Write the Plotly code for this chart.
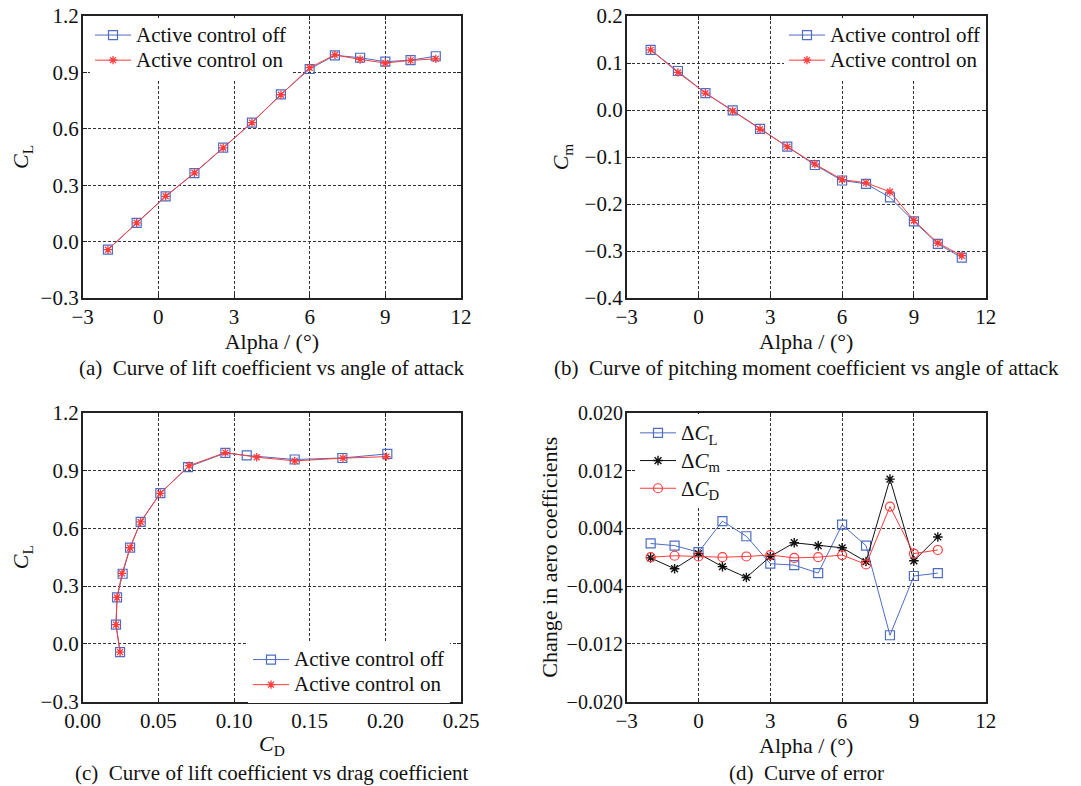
import plotly.graph_objects as go

# ---------------- data ----------------
alpha = [-2, -0.86, 0.29, 1.43, 2.57, 3.71, 4.86, 6, 7, 8, 9, 10, 11]
CL_off = [-0.043, 0.100, 0.241, 0.364, 0.500, 0.633, 0.783, 0.918, 0.991, 0.978, 0.957, 0.965, 0.986]
CL_on = [-0.043, 0.100, 0.241, 0.366, 0.499, 0.633, 0.781, 0.925, 0.993, 0.969, 0.950, 0.964, 0.972]
Cm_off = [0.128, 0.083, 0.036, -0.001, -0.040, -0.078, -0.117, -0.150, -0.157, -0.186, -0.237, -0.285, -0.314]
Cm_on = [0.128, 0.080, 0.036, -0.002, -0.041, -0.078, -0.115, -0.148, -0.155, -0.174, -0.235, -0.283, -0.310]
CD_off = [0.0247, 0.0220, 0.0227, 0.0264, 0.0313, 0.0383, 0.0513, 0.0696, 0.0943, 0.1084, 0.1401, 0.1716, 0.2013]
CD_on = [0.0247, 0.0220, 0.0227, 0.0260, 0.0313, 0.0383, 0.0513, 0.0703, 0.0943, 0.1150, 0.1401, 0.1720, 0.2007]

alpha_d = [-2, -1, 0, 1, 2, 3, 4, 5, 6, 7, 8, 9, 10]
dCL = [0.0019, 0.0016, 0.0007, 0.0050, 0.0029, -0.0009, -0.0011, -0.0022, 0.0045, 0.0016, -0.0108, -0.0026, -0.0022]
dCm = [-0.0001, -0.0016, 0.0005, -0.0013, -0.0028, 0.0001, 0.0020, 0.0016, 0.0013, -0.0006, 0.0108, -0.0005, 0.0028]
dCD = [0.0000, 0.0002, 0.0001, 0.0000, 0.0001, 0.0003, -0.0001, 0.0000, 0.0003, -0.0010, 0.0070, 0.0005, 0.0010]

name_off = "Active control off"
name_on = "Active control on"
names_d = ["Δ<i>C</i><sub>L</sub>", "Δ<i>C</i><sub>m</sub>", "Δ<i>C</i><sub>D</sub>"]
captions = [
    "(a)\u00a0\u00a0Curve of lift coefficient vs angle of attack",
    "(b)\u00a0\u00a0Curve of pitching moment coefficient vs angle of attack",
    "(c)\u00a0\u00a0Curve of lift coefficient vs drag coefficient",
    "(d)\u00a0\u00a0Curve of error",
]

# ---------------- style ----------------
# page body has an 8px margin: the figure is sized/offset so that screen
# positions line up with the 1081x786 reference
OFF = 8
W, H = 1081 - OFF, 786 - OFF
FONT = "Liberation Serif, Times New Roman, serif"
BLUE = "#4d6cc4"
RED = "#ff3b3b"
BLACK = "#111111"
LEG_TEXT = '<span style="font-size:21px">{}</span>'

def px_x(p):
    return (p - OFF) / W

def px_y(p):
    return 1 - (p - OFF) / H

fig = go.Figure()

def off_trace(x, y, xa, ya, leg):
    return go.Scatter(x=x, y=y, xaxis=xa, yaxis=ya, name=LEG_TEXT.format(name_off), legend=leg,
                      mode="lines+markers",
                      line=dict(color=BLUE, width=1),
                      marker=dict(symbol="square-open", size=9, color=BLUE,
                                  line=dict(color=BLUE, width=1.2)))

def on_trace(x, y, xa, ya, leg):
    return go.Scatter(x=x, y=y, xaxis=xa, yaxis=ya, name=LEG_TEXT.format(name_on), legend=leg,
                      mode="lines+markers",
                      line=dict(color=RED, width=1),
                      marker=dict(symbol="asterisk-open", size=7, color=RED,
                                  line=dict(color=RED, width=1.3)))

# (a)
fig.add_trace(off_trace(alpha, CL_off, "x", "y", "legend"))
fig.add_trace(on_trace(alpha, CL_on, "x", "y", "legend"))
# (b)
fig.add_trace(off_trace(alpha, Cm_off, "x2", "y2", "legend2"))
fig.add_trace(on_trace(alpha, Cm_on, "x2", "y2", "legend2"))
# (c)
fig.add_trace(off_trace(CD_off, CL_off, "x3", "y3", "legend3"))
fig.add_trace(on_trace(CD_on, CL_on, "x3", "y3", "legend3"))
# (d)
fig.add_trace(go.Scatter(x=alpha_d, y=dCL, xaxis="x4", yaxis="y4", name=LEG_TEXT.format(names_d[0]), legend="legend4",
                         mode="lines+markers", line=dict(color=BLUE, width=1),
                         marker=dict(symbol="square-open", size=9, color=BLUE, line=dict(color=BLUE, width=1.2))))
fig.add_trace(go.Scatter(x=alpha_d, y=dCm, xaxis="x4", yaxis="y4", name=LEG_TEXT.format(names_d[1]), legend="legend4",
                         mode="lines+markers", line=dict(color=BLACK, width=1),
                         marker=dict(symbol="asterisk-open", size=8, color=BLACK, line=dict(color=BLACK, width=1.4))))
fig.add_trace(go.Scatter(x=alpha_d, y=dCD, xaxis="x4", yaxis="y4", name=LEG_TEXT.format(names_d[2]), legend="legend4",
                         mode="lines+markers", line=dict(color=RED, width=1),
                         marker=dict(symbol="circle-open", size=9, color=RED, line=dict(color=RED, width=1.2))))

# ---------------- axes ----------------
xl = (px_x(82.7), px_x(461))
xr = (px_x(626.7), px_x(985.7))
yt = (px_y(298), px_y(16))
yb = (px_y(701.7), px_y(412.7))

common = dict(showline=True, linecolor="#222", linewidth=1.6, mirror="ticks",
              ticks="inside", ticklen=4, tickwidth=1.2, tickcolor="#222",
              showgrid=True, gridcolor="#333", gridwidth=1, griddash="3px,2px",
              zeroline=False, automargin=False, ticklabeloverflow="allow",
              tickfont=dict(family=FONT, size=21, color="#111"))
cx = dict(common, ticklabelstandoff=-1)
cy = dict(common, ticklabelstandoff=-2)
cy_d = dict(cy, tickfont=dict(family=FONT, size=20, color="#111"))

title_font = dict(family=FONT, size=22, color="#111")

fig.update_layout(
    xaxis=dict(domain=xl, anchor="y", range=[-3, 12], tick0=-3, dtick=3,
               title=dict(text="Alpha / (°)", font=title_font, standoff=5), **cx),
    yaxis=dict(domain=yt, anchor="x", range=[-0.3, 1.2], tick0=-0.3, dtick=0.3, tickformat=".1f",
               title=dict(text="<i>C</i><sub>L</sub>", font=title_font, standoff=10), **cy),
    xaxis2=dict(domain=xr, anchor="y2", range=[-3, 12], tick0=-3, dtick=3,
                title=dict(text="Alpha / (°)", font=title_font, standoff=5), **cx),
    yaxis2=dict(domain=yt, anchor="x2", range=[-0.4, 0.2], tick0=-0.4, dtick=0.1, tickformat=".1f",
                title=dict(text="<i>C</i><sub>m</sub>", font=title_font, standoff=10), **cy),
    xaxis3=dict(domain=xl, anchor="y3", range=[0, 0.25], tick0=0, dtick=0.05, tickformat=".2f",
                title=dict(text="<i>C</i><sub>D</sub>", font=title_font, standoff=4), **cx),
    yaxis3=dict(domain=yb, anchor="x3", range=[-0.3, 1.2], tick0=-0.3, dtick=0.3, tickformat=".1f",
                title=dict(text="<i>C</i><sub>L</sub>", font=title_font, standoff=10), **cy),
    xaxis4=dict(domain=xr, anchor="y4", range=[-3, 12], tick0=-3, dtick=3,
                title=dict(text="Alpha / (°)", font=title_font, standoff=5), **cx),
    yaxis4=dict(domain=yb, anchor="x4", range=[-0.02, 0.02], tick0=-0.02, dtick=0.008, tickformat=".3f",
                title=dict(text="Change in aero coefficients", font=title_font, standoff=3), **cy_d),
)

leg_common = dict(bgcolor="white", borderwidth=0,
                  xanchor="left", yanchor="top", tracegroupgap=0, itemwidth=36)
f17 = dict(family=FONT, size=17, color="#111")
f19 = dict(family=FONT, size=19, color="#111")

fig.update_layout(
    legend=dict(x=px_x(90), y=px_y(17.5), font=f17, **leg_common),
    legend2=dict(x=px_x(784), y=px_y(17.5), font=f17, **leg_common),
    legend3=dict(x=px_x(248), y=px_y(642), font=f17, **leg_common),
    legend4=dict(x=px_x(635), y=px_y(414), font=f19, **leg_common),
)

cap_font = dict(family=FONT, size=21, color="#111")
cap_pos = [(271.5, 368), (806.7, 368), (272, 773), (806, 773)]
for text, (cxp, cyp) in zip(captions, cap_pos):
    fig.add_annotation(text=text, xref="paper", yref="paper", x=px_x(cxp), y=px_y(cyp),
                       xanchor="center", yanchor="middle", showarrow=False, font=cap_font)

fig.update_layout(width=W, height=H, margin=dict(l=0, r=0, t=0, b=0),
                  paper_bgcolor="white", plot_bgcolor="white", showlegend=True,
                  font=dict(family=FONT))

fig.write_html("out.html")
